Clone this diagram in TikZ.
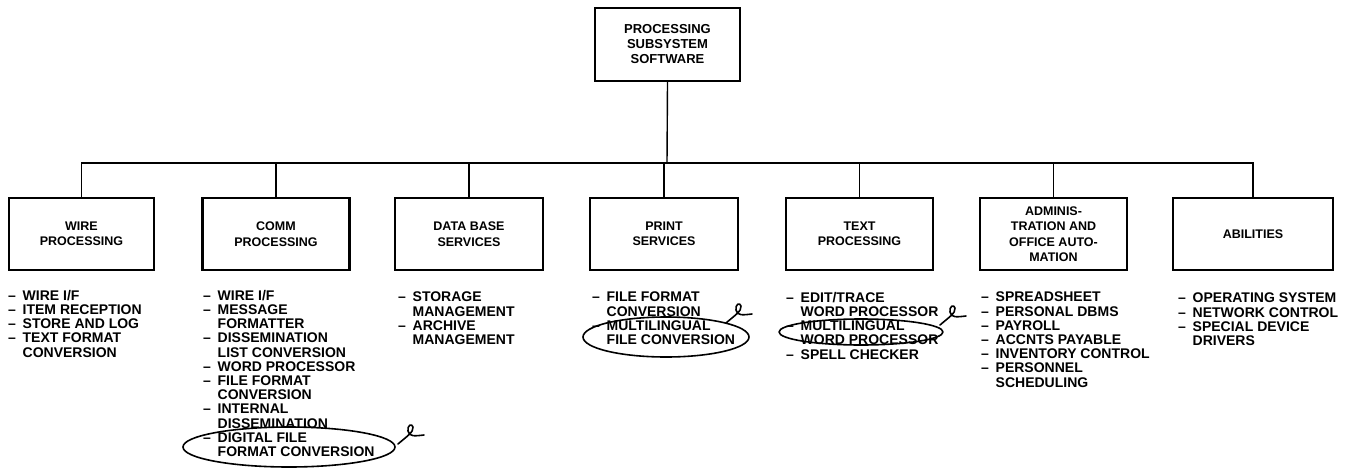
\documentclass[tikz,border=0pt]{standalone}
\usepackage{fontspec}
\setmainfont{Liberation Sans}

\newcommand{\itemdash}{\makebox[14.5pt][l]{--}}
\newcommand{\itemcont}{\hspace*{14.5pt}}

\begin{document}
\begin{tikzpicture}[x=1pt,y=-1pt,
    unitbox/.style={draw,line width=2.2pt,minimum height=72pt,inner sep=0pt,align=center,
      font=\bfseries\fontsize{12.5}{15.5}\selectfont},
    itemlist/.style={anchor=north west,inner sep=0pt,align=left,
      font=\bfseries\fontsize{14}{14.2}\selectfont},
    link/.style={line width=1.4pt},
    penline/.style={line width=1.6pt,line cap=round,line join=round}]

  \useasboundingbox (0,0) rectangle (1350,469);

  \node[unitbox,minimum width=145pt,minimum height=73pt,font=\bfseries\fontsize{13}{15}\selectfont]
    (pss) at (667.5,44.5) {PROCESSING\\SUBSYSTEM\\SOFTWARE};
  \coordinate (bus) at (667,163);

  \foreach \nm/\cx/\w/\lbl in {wire/81.5/145/{WIRE\\PROCESSING}, comm/276/147/{COMM\\PROCESSING},
      dbs/469/148/{DATA BASE\\SERVICES}, prt/664/148/{PRINT\\SERVICES}, txt/859.5/147/{TEXT\\PROCESSING},
      adm/1053.5/147/{ADMINIS-\\TRATION AND\\OFFICE AUTO-\\MATION}, abil/1253/160/{ABILITIES}}{
    \node[unitbox,minimum width=\w pt] (\nm) at (\cx,234) {\lbl};
    \draw[link] (\nm.north) -- (\nm.north |- bus);
  }

  \draw[link] (pss.south) -- (bus);
  \draw[link] (wire.north) |- (bus) -| (abil.north);

  \node[itemlist] (wirelist) at (8,290) {\itemdash WIRE I/F\\ \itemdash ITEM RECEPTION\\ \itemdash STORE AND LOG\\
    \itemdash TEXT FORMAT\\ \itemcont CONVERSION};
  \node[itemlist] (commlist) at (203,290) {\itemdash WIRE I/F\\ \itemdash MESSAGE\\ \itemcont FORMATTER\\
    \itemdash DISSEMINATION\\ \itemcont LIST CONVERSION\\ \itemdash WORD PROCESSOR\\ \itemdash FILE FORMAT\\
    \itemcont CONVERSION\\ \itemdash INTERNAL\\ \itemcont DISSEMINATION\\ \itemdash DIGITAL FILE\\
    \itemcont FORMAT CONVERSION};
  \node[itemlist] (dbslist) at (398,292) {\itemdash STORAGE\\ \itemcont MANAGEMENT\\ \itemdash ARCHIVE\\
    \itemcont MANAGEMENT};
  \node[itemlist] (prtlist) at (592,292) {\itemdash FILE FORMAT\\ \itemcont CONVERSION\\ \itemdash MULTILINGUAL\\
    \itemcont FILE CONVERSION};
  \node[itemlist] (txtlist) at (786,292) {\itemdash EDIT/TRACE\\ \itemcont WORD PROCESSOR\\ \itemdash MULTILINGUAL\\
    \itemcont WORD PROCESSOR\\ \itemdash SPELL CHECKER};
  \node[itemlist] (admlist) at (981,292) {\itemdash SPREADSHEET\\ \itemdash PERSONAL DBMS\\ \itemdash PAYROLL\\
    \itemdash ACCNTS PAYABLE\\ \itemdash INVENTORY CONTROL\\ \itemdash PERSONNEL\\ \itemcont SCHEDULING};
  \node[itemlist] (abillist) at (1178,293) {\itemdash OPERATING SYSTEM\\ \itemdash NETWORK CONTROL\\
    \itemdash SPECIAL DEVICE\\ \itemcont DRIVERS};

  \draw[penline] (289,447) ellipse [x radius=106, y radius=20];
  \draw[penline] (666,337) ellipse [x radius=83, y radius=20];
  \draw[penline] (861,332) ellipse [x radius=82, y radius=13];

  \foreach \x/\y in {410/434, 738/313, 952/315}{
    \draw[penline,shift={(\x,\y)}] (-12,10) .. controls (-4,3) and (4,-2) .. (3,-7)
      .. controls (2,-11) and (-3,-9) .. (-2,-3) .. controls (-1,3) and (5,2) .. (14,1);
  }
\end{tikzpicture}
\end{document}
